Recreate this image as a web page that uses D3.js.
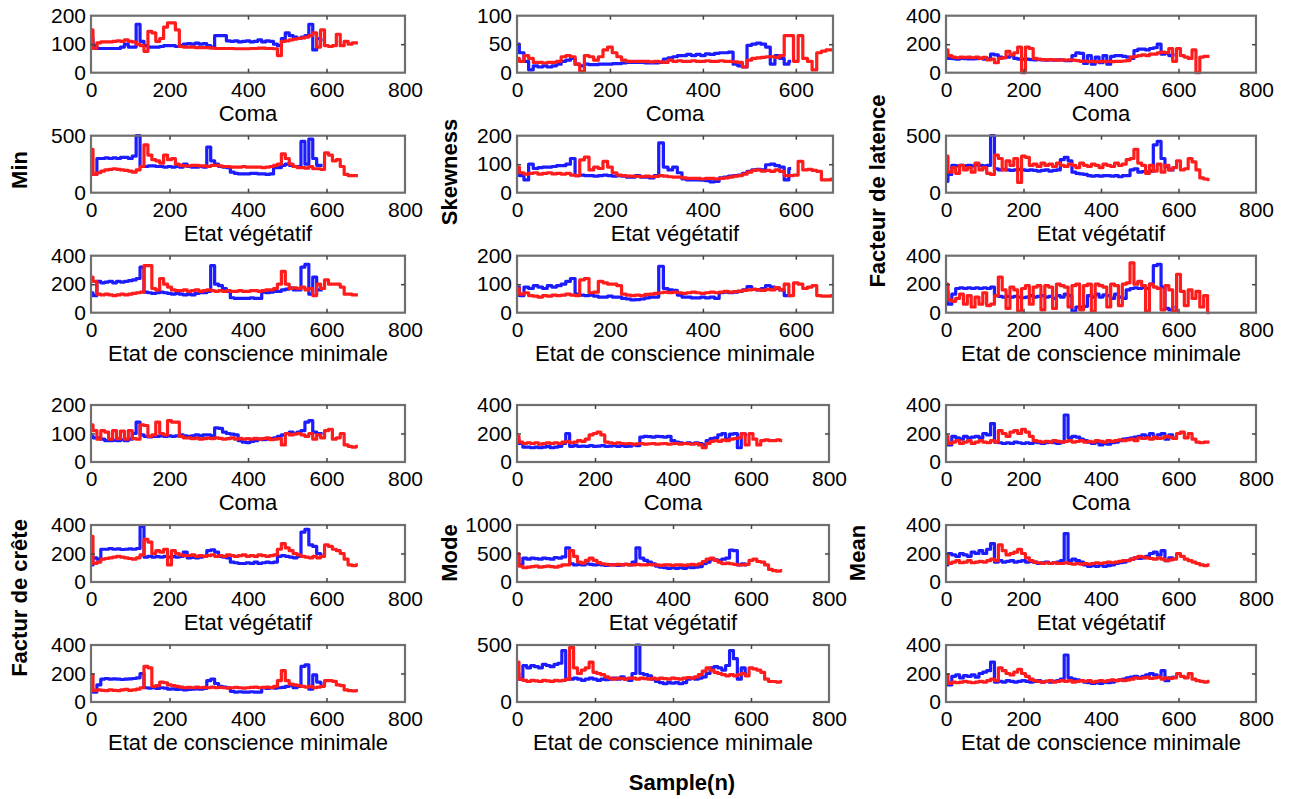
<!DOCTYPE html>
<html>
<head>
<meta charset="utf-8">
<script src="https://cdn.jsdelivr.net/npm/d3@7"></script>
<style>
  body { margin: 0; background: #fff; }
  svg { font-family: "Liberation Sans", Arial, sans-serif; }
  .tick text { font-size: 21px; fill: #000; }
  .tick line { stroke: #444; stroke-width: 1.5; }
  .xlab { font-size: 22px; }
  .ylab { font-size: 22px; font-weight: bold; }
</style>
</head>
<body>
<div id="chart"></div>
<script>
// series sampled every 10 samples: blue = 0..590, red = 0..680
const minComaB = [120,95,85,85,85,85,85,85,90,100, 90,90,170,110,95,90,90,90,92,95, 95,95,92,95,100,102,100,104,100,102, 95,90,130,130,130,112,110,112,108,110, 112,108,110,115,108,112,110,100,95,120, 140,130,125,120,125,130,170,80,120,115];
const minComaR = [150,85,105,108,108,108,110,112,110,115, 110,108,100,95,75,145,140,110,120,160, 175,175,150,92,90,90,90,88,88,88, 88,86,85,85,85,85,85,84,84,84, 84,85,85,86,86,85,85,84,60,110, 112,115,118,120,122,125,130,140,90,150, 95,92,95,135,95,110,100,105,105];
const minVegB = [170,160,300,300,305,300,305,300,310,310, 300,320,500,230,230,235,235,230,230,225, 230,225,230,225,250,230,225,225,230,225, 400,280,250,230,225,220,180,170,165,165, 165,170,170,165,165,160,165,220,220,240, 250,240,230,230,450,250,470,300,240,240];
const minVegR = [380,160,175,190,200,205,210,205,200,195, 190,180,200,230,420,330,290,280,260,330, 290,300,250,240,235,235,240,240,235,235, 230,240,240,235,230,230,225,225,225,230, 225,225,225,225,220,225,230,240,250,340, 300,250,230,220,220,215,230,210,210,205, 350,330,280,290,230,160,150,150,150];
const minEcmB = [140,120,220,210,215,220,210,220,215,220, 225,230,240,320,145,140,135,140,145,140, 135,130,135,130,125,130,125,135,140,140, 150,330,200,190,170,150,105,100,100,100, 100,105,100,100,145,140,145,150,150,160, 165,175,160,160,320,340,130,250,160,160];
const minEcmR = [250,220,130,125,130,125,120,125,130,125, 130,135,140,145,330,330,170,160,240,200, 180,160,155,155,160,150,155,160,150,155, 160,155,150,155,150,155,150,150,155,150, 150,155,155,150,155,160,160,170,200,290, 200,170,175,170,180,160,170,120,200,170, 230,200,200,200,180,130,130,125,125];

const skewComaB = [50,35,20,5,12,10,12,10,12,15, 20,22,25,15,12,15,14,14,15,15, 15,16,16,17,18,18,18,18,17,17, 17,18,24,26,28,30,30,32,30,32, 30,33,32,34,35,35,36,15,12,10, 48,50,52,50,45,15,30,25,15,20];
const skewComaR = [25,20,30,25,18,18,17,18,18,20, 28,30,28,15,2,30,28,22,28,40, 45,35,28,22,20,20,20,20,20,19, 20,19,18,22,20,21,20,20,21,20, 20,21,20,20,21,20,20,19,18,10, 22,25,26,27,28,28,27,30,65,65, 20,65,25,20,5,35,38,40,40];
const skewVegB = [80,60,45,100,85,88,90,90,92,95, 95,100,120,60,62,60,60,58,60,62, 60,58,60,58,55,55,60,55,55,52, 60,175,90,80,90,70,48,45,45,45, 44,42,38,40,52,55,58,60,62,68, 75,80,82,80,98,100,95,90,45,85];
const skewVegR = [90,70,65,68,70,65,68,70,66,68, 65,68,62,60,115,125,80,90,85,110, 90,70,62,60,58,58,57,56,58,56, 57,60,58,56,55,55,52,50,50,50, 48,50,50,48,50,52,55,58,60,65, 72,78,80,76,78,75,80,75,60,60, 62,110,80,82,78,75,45,45,48];
const skewEcmB = [90,60,90,85,95,90,85,95,90,95, 100,110,120,65,62,60,62,58,55,55, 58,55,55,50,48,45,46,48,52,55, 55,163,85,80,78,62,55,55,52,52, 55,52,55,50,70,72,70,72,75,80, 92,82,80,85,95,90,85,80,60,60];
const skewEcmR = [85,65,70,60,58,55,60,58,62,60, 62,65,62,60,115,120,70,72,110,105, 100,100,95,65,62,60,62,60,64,65, 68,70,72,70,72,70,68,70,72,70, 68,70,72,70,72,75,72,74,76,78, 80,82,80,78,82,80,88,80,100,60, 105,100,85,90,95,60,58,58,60];

const latComaB = [130,100,98,95,100,98,97,96,98,100, 95,98,130,125,110,105,110,120,100,95, 95,95,92,90,92,90,88,90,88,90, 90,85,85,120,140,135,65,120,60,110, 70,120,60,115,120,120,115,110,100,155, 165,165,160,170,175,200,130,135,120,125];
const latComaR = [160,120,110,105,110,108,110,105,110,100, 108,90,95,70,100,105,150,125,140,180, 0,180,170,100,95,92,90,92,90,88, 90,88,90,88,85,80,82,78,80,75, 80,78,80,78,80,80,82,85,110,115, 120,125,120,130,130,140,145,140,170,80, 170,120,110,100,160,0,110,115,115];
const latVegB = [100,160,240,235,240,235,240,235,245,240, 235,240,500,210,200,205,200,195,200,205, 200,195,200,195,190,195,200,190,195,200, 290,310,280,180,170,165,160,150,145,150, 145,150,150,145,150,140,150,150,200,210, 180,185,180,190,420,450,300,230,200,200];
const latVegR = [320,180,220,170,240,200,220,180,260,200, 220,170,160,330,300,200,280,240,300,90, 320,310,240,250,230,260,240,250,230,260, 240,230,250,240,220,260,240,230,250,240, 220,250,240,230,260,240,250,290,300,380, 260,240,170,240,190,250,180,240,200,220, 280,200,210,300,270,200,130,120,115];
const latEcmB = [150,60,130,170,175,170,175,170,175,170, 175,170,180,120,115,110,115,110,115,110, 105,110,120,110,115,120,110,115,100,120, 110,130,120,10,40,40,45,120,110,130, 110,125,120,100,130,110,100,160,170,175, 170,175,170,200,330,340,180,30,20,40];
const latEcmR = [200,90,80,100,130,60,120,40,110,60, 140,50,60,120,250,160,30,180,160,10, 170,190,60,180,190,20,190,180,30,200, 190,180,40,190,200,20,190,200,10,200, 190,180,40,200,190,50,200,210,350,200, 220,190,10,200,180,170,20,190,160,10, 270,150,50,160,100,150,40,120,0];

const creteComaB = [90,85,85,80,75,75,76,75,78,75, 80,100,140,95,90,88,90,90,92,90, 92,90,92,95,92,90,92,95,92,95, 95,92,120,118,105,100,98,95,75,70, 68,72,75,80,78,80,82,85,90,95, 100,105,100,105,110,140,145,105,100,100];
const creteComaR = [130,110,80,110,105,80,110,82,108,80, 110,82,80,130,128,90,95,140,100,95, 145,140,140,90,85,85,82,84,80,82, 84,82,85,83,80,82,85,80,83,80, 82,80,83,80,82,85,78,80,82,60, 100,95,98,100,95,90,100,80,95,85, 110,115,80,85,100,60,55,52,55];
const creteVegB = [120,170,160,230,230,235,230,232,228,230, 232,230,235,390,175,180,175,178,175,180, 175,178,175,180,210,170,172,170,175,180, 220,225,210,180,175,170,140,135,130,130, 135,130,140,130,135,140,135,140,180,185, 180,175,170,180,350,370,260,250,200,190];
const creteVegR = [320,130,140,160,165,170,175,180,175,170, 165,160,170,190,300,280,200,220,210,230, 120,220,200,190,185,185,190,180,185,180, 185,190,180,185,180,190,185,180,185,190, 180,185,180,190,185,180,185,190,230,270, 240,220,200,190,180,175,170,180,170,180, 260,250,230,220,200,160,120,115,120];
const creteEcmB = [90,70,120,160,165,160,162,160,158,160, 162,165,170,200,100,98,100,95,100,98, 90,92,88,90,85,88,90,92,90,95, 150,160,130,110,105,100,75,70,72,70, 70,72,70,70,100,95,100,98,100,102, 110,115,100,110,250,260,90,190,140,130];
const creteEcmR = [190,80,85,82,80,85,82,80,85,88, 82,85,90,100,250,240,110,115,140,135, 120,115,110,105,100,102,100,105,100,102, 100,105,100,102,100,98,100,102,100,98, 100,102,105,100,102,105,100,110,150,220, 150,125,120,115,110,105,110,100,105,110, 150,150,145,120,115,85,80,78,80];

const modeComaB = [160,130,105,105,100,105,100,105,110,100, 105,110,130,200,110,115,110,112,110,115, 110,112,115,110,112,115,110,115,110,112, 120,115,175,180,178,175,180,178,175,180, 150,140,135,130,135,130,135,130,120,150, 165,170,190,200,160,195,200,100,200,190];
const modeComaR = [180,140,130,135,130,135,125,130,135,130, 135,130,140,145,135,140,150,145,160,190, 200,210,190,140,135,130,135,130,128,130, 125,128,130,125,128,130,125,128,130,125, 128,130,125,130,128,125,130,120,100,130, 145,150,145,155,150,160,165,170,200,120, 200,160,120,150,155,150,150,155,150];
const modeVegB = [450,300,420,400,420,410,400,420,410,400, 430,420,440,600,320,300,310,300,320,310, 300,310,300,290,300,300,290,300,310,300, 350,600,420,380,350,320,280,260,250,240, 250,240,250,240,260,250,260,270,320,350, 400,390,380,400,420,560,550,300,320,300];
const modeVegR = [500,280,250,260,270,280,260,270,280,270, 260,280,300,300,550,450,350,330,380,420, 380,340,320,310,300,300,310,300,310,300, 300,310,300,300,310,300,300,290,300,300, 290,300,300,290,300,310,300,320,360,400, 420,380,350,320,330,320,310,300,300,310, 380,400,360,350,300,220,200,190,200];
const modeEcmB = [250,200,320,300,320,310,300,330,320,310, 330,340,450,200,200,210,200,190,200,210, 200,190,200,195,200,210,200,220,200,190, 250,500,250,240,230,200,180,170,160,170, 165,170,160,170,200,210,200,210,220,250, 300,310,300,280,320,450,380,200,300,250];
const modeEcmR = [350,200,190,180,190,185,180,190,185,180, 190,185,190,200,480,300,250,280,300,350, 260,250,240,220,210,200,210,205,200,210, 210,200,210,205,200,210,200,210,205,200, 210,205,200,210,215,210,220,240,270,300, 280,260,250,240,230,240,230,240,250,230, 300,290,280,260,200,180,180,175,180];

const meanComaB = [150,120,180,170,160,180,170,175,180,170, 200,190,270,140,135,130,135,130,140,135, 130,135,130,140,135,130,135,140,135,130, 140,330,170,180,175,160,150,140,130,140, 120,130,125,135,140,150,160,165,170,175, 180,190,180,200,170,190,200,160,190,170];
const meanComaR = [180,130,140,150,130,140,150,130,140,150, 140,135,150,140,220,200,180,210,220,200, 230,210,180,150,145,140,145,140,150,145, 140,145,150,140,145,150,140,145,140,150, 145,140,150,145,150,155,150,155,160,150, 170,165,170,160,175,165,170,180,175,165, 200,210,170,200,160,140,135,140,140];
const meanVegB = [120,200,190,180,200,190,180,210,200,220, 200,230,270,140,150,140,145,150,140,145, 150,140,145,140,130,135,140,130,135,140, 150,340,150,160,150,140,120,110,115,110, 120,110,115,120,130,135,140,150,160,170, 165,170,180,200,210,190,220,150,170,160];
const meanVegR = [190,130,140,150,135,140,150,135,140,145, 140,150,160,150,260,220,190,200,210,230, 200,170,150,140,135,130,135,130,135,130, 130,135,130,125,130,125,130,125,130,135, 130,135,140,135,140,145,150,150,160,170, 180,175,170,165,160,170,160,150,155,160, 200,180,160,150,140,130,120,115,120];
const meanEcmB = [150,120,180,190,170,185,180,190,175,200, 210,220,280,140,145,140,150,145,140,145, 150,145,140,145,150,140,145,140,145,150, 160,330,170,160,155,150,140,135,130,135, 130,140,135,140,150,155,160,170,175,180, 170,180,190,200,190,180,220,150,170,175];
const meanEcmR = [190,130,140,135,140,145,140,135,140,145, 140,150,160,150,240,220,200,190,210,230, 200,180,160,150,145,140,145,150,140,145, 150,145,150,140,145,150,145,150,140,145, 150,145,150,155,150,155,150,155,160,170, 165,170,175,165,170,175,160,170,165,170, 200,180,170,200,160,150,145,140,145];

const xLabels = ["Coma", "Etat végétatif", "Etat de conscience minimale"];
const yMaxes = [[200, 100, 400], [500, 200, 500], [400, 200, 400],
                [200, 400, 400], [400, 1000, 400], [400, 500, 400]];
const seriesGrid = [
  [[minComaB, minComaR], [skewComaB, skewComaR], [latComaB, latComaR]],
  [[minVegB, minVegR], [skewVegB, skewVegR], [latVegB, latVegR]],
  [[minEcmB, minEcmR], [skewEcmB, skewEcmR], [latEcmB, latEcmR]],
  [[creteComaB, creteComaR], [modeComaB, modeComaR], [meanComaB, meanComaR]],
  [[creteVegB, creteVegR], [modeVegB, modeVegR], [meanVegB, meanVegR]],
  [[creteEcmB, creteEcmR], [modeEcmB, modeEcmR], [meanEcmB, meanEcmR]],
];
const yTitles = [
  { text: "Min", x: 19, y: 170 },
  { text: "Skewness", x: 449, y: 172 },
  { text: "Facteur de latence", x: 877, y: 191 },
  { text: "Factur de crête", x: 19, y: 598 },
  { text: "Mode", x: 449, y: 553 },
  { text: "Mean", x: 857, y: 553 },
];

const width = 1293, height = 799;
const rowTops = [15.7, 135.7, 255.7, 405, 525, 645];
const boxH = 57;
const colLeft = [91, 517, 946];

const svg = d3.select("#chart").append("svg")
  .attr("width", width).attr("height", height);

svg.append("defs").append("filter").attr("id", "soft")
  .append("feGaussianBlur").attr("stdDeviation", 0.55);

const line = (x, y) => d3.line()
  .x((d, i) => x(i * 10))
  .y((d) => y(d))
  .curve(d3.curveStep);

for (let r = 0; r < 6; r++) {
  for (let c = 0; c < 3; c++) {
    const short = c === 1 && r < 3;
    const xMax = short ? 680 : 800;
    const left = colLeft[c];
    const right = c === 0 ? 405 : c === 1 ? (short ? 833 : 829) : 1256;
    const top = rowTops[r];
    const bottom = top + boxH;
    const yMax = yMaxes[r][c];

    const x = d3.scaleLinear().domain([0, xMax]).range([left, right]);
    const y = d3.scaleLinear().domain([0, yMax]).range([bottom, top]);
    const xTicks = short ? [0, 200, 400, 600] : [0, 200, 400, 600, 800];
    const yTicks = yMax === 500 ? [0, 500] : [0, yMax / 2, yMax];

    const g = svg.append("g");

    const [blue, red] = seriesGrid[r][c];
    const lines = g.append("g").attr("filter", "url(#soft)");
    lines.append("path").attr("d", line(x, y)(blue))
      .attr("fill", "none").attr("stroke", "#1a1aff").attr("stroke-width", 3.2)
      .attr("stroke-linejoin", "round");
    lines.append("path").attr("d", line(x, y)(red))
      .attr("fill", "none").attr("stroke", "#ff1a1a").attr("stroke-width", 3.2)
      .attr("stroke-linejoin", "round");

    g.append("rect")
      .attr("x", left).attr("y", top)
      .attr("width", right - left).attr("height", boxH)
      .attr("fill", "none").attr("stroke", "#6f6f6f").attr("stroke-width", 2.2)
      .attr("filter", "url(#soft)");

    g.append("g").attr("transform", `translate(0,${bottom})`)
      .call(d3.axisBottom(x).tickValues(xTicks).tickSize(-4).tickPadding(9))
      .call((a) => a.select(".domain").remove())
      .call((a) => a.selectAll("text").attr("font-family", null).attr("font-size", null));
    g.append("g").attr("transform", `translate(0,${top})`)
      .call(d3.axisTop(x).tickValues(xTicks).tickSize(-4).tickFormat(""))
      .call((a) => a.select(".domain").remove());
    g.append("g").attr("transform", `translate(${left},0)`)
      .call(d3.axisLeft(y).tickValues(yTicks).tickSize(-4).tickPadding(5).tickFormat(d3.format("d")))
      .call((a) => a.select(".domain").remove())
      .call((a) => a.selectAll("text").attr("font-family", null).attr("font-size", null));
    g.append("g").attr("transform", `translate(${right},0)`)
      .call(d3.axisRight(y).tickValues(yTicks).tickSize(-4).tickFormat(""))
      .call((a) => a.select(".domain").remove());
    g.selectAll(".tick line").filter((d) => d === 0 || d === xMax || d === yMax).remove();

    g.append("text").attr("class", "xlab")
      .attr("x", (left + right) / 2).attr("y", bottom + 48)
      .attr("text-anchor", "middle")
      .text(xLabels[r % 3]);
  }
}

svg.selectAll("text.ylab").data(yTitles).join("text")
  .attr("class", "ylab")
  .attr("text-anchor", "middle")
  .attr("transform", (d) => `translate(${d.x},${d.y}) rotate(-90)`)
  .attr("dy", "0.35em")
  .text((d) => d.text);

svg.append("text").attr("class", "ylab")
  .attr("x", 682).attr("y", 790)
  .attr("text-anchor", "middle")
  .text("Sample(n)");
</script>
</body>
</html>
